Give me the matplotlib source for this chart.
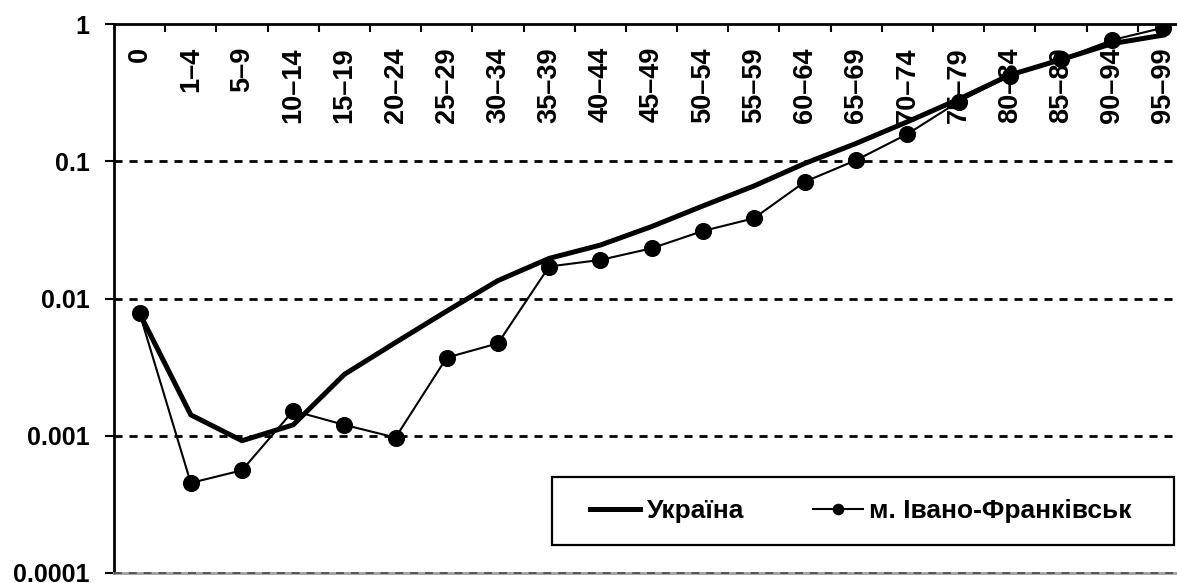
import matplotlib.pyplot as plt
from matplotlib.patches import Rectangle
import numpy as np

# age groups and rates
age_groups = ["0", "1–4", "5–9", "10–14", "15–19", "20–24", "25–29", "30–34",
              "35–39", "40–44", "45–49", "50–54", "55–59", "60–64", "65–69",
              "70–74", "75–79", "80–84", "85–89", "90–94", "95–99"]

ukraine = [0.0078, 0.00142, 0.00092, 0.0012, 0.0028, 0.00478, 0.0081, 0.0135,
           0.0196, 0.0245, 0.0334, 0.0472, 0.066, 0.0966, 0.135, 0.194,
           0.283, 0.425, 0.55, 0.72, 0.83]

ivano_frankivsk = [0.0078, 0.000453, 0.00056, 0.00152, 0.0012, 0.00097, 0.00371,
                   0.00471, 0.0171, 0.0191, 0.0232, 0.031, 0.0384, 0.071, 0.102,
                   0.158, 0.272, 0.418, 0.553, 0.764, 0.94]

y_ticks = [0.0001, 0.001, 0.01, 0.1, 1]
y_ticklabels = ["0.0001", "0.001", "0.01", "0.1", "1"]

series_labels = ["Україна", "м. Івано-Франківськ"]


def main():
    plt.rcParams['font.family'] = ['Liberation Sans', 'DejaVu Sans']
    plt.rcParams['font.weight'] = 'bold'

    W, H = 1177, 583
    fig = plt.figure(figsize=(W / 100, H / 100), dpi=100)
    # plot area runs past the right edge, as in the reference
    ax = fig.add_axes([114 / W, 10 / H, 1075 / W, 549 / H])

    x = np.arange(len(age_groups))

    ax.plot(x, ukraine, color='k', lw=3.6, label=series_labels[0], zorder=3)
    ax.plot(x, ivano_frankivsk, color='k', lw=1.5, marker='o', markersize=11.3,
            label=series_labels[1], zorder=4)

    ax.set_yscale('log')
    ax.set_ylim(y_ticks[0], y_ticks[-1])
    ax.set_xlim(-0.5, len(age_groups) - 0.5)

    # dashed horizontal grid
    for v in y_ticks[1:-1]:
        ax.axhline(v, color='k', lw=2, ls=(0, (2.9, 2.5)), zorder=1)
    ax.axhline(y_ticks[0], color='#505050', lw=1.3, ls=(0, (4.4, 3.8)),
               zorder=2.6, clip_on=False)

    ax.set_yticks(y_ticks)
    ax.set_yticklabels(y_ticklabels)
    ax.yaxis.set_minor_locator(plt.NullLocator())
    ax.tick_params(axis='y', which='major', direction='out', length=6.5,
                   width=1.5, pad=11, labelsize=18)

    # category axis sits at the top, ticks between groups pointing down
    ax.set_xticks(x)
    ax.set_xticklabels([])
    ax.set_xticks(x[:-1] + 0.5, minor=True)
    ax.tick_params(axis='x', which='major', length=0, bottom=False, top=False)
    ax.tick_params(axis='x', which='minor', direction='in', length=6,
                   width=1.5, bottom=False, top=True)
    for i, lab in enumerate(age_groups):
        ax.text(x[i], 0.958, lab, transform=ax.get_xaxis_transform(),
                rotation=90, ha='center', va='top', fontsize=19.5,
                fontweight='bold')

    ax.spines['right'].set_visible(False)
    ax.spines['top'].set_linewidth(2)
    ax.spines['left'].set_linewidth(2)
    ax.spines['bottom'].set_color('#a0a0a0')
    ax.spines['bottom'].set_linewidth(2)

    # legend box drawn separately so the padding can match
    ax.add_patch(Rectangle((552 / W, 1 - 545 / H), 622 / W, 68 / H,
                           transform=fig.transFigure, facecolor='white',
                           edgecolor='k', lw=1.6, zorder=5, clip_on=False))
    leg = ax.legend(loc='center left', bbox_to_anchor=(590 / W, 1 - 511 / H),
                    bbox_transform=fig.transFigure, borderaxespad=0,
                    borderpad=0, ncol=2, frameon=False, fontsize=19,
                    handlelength=1.9, handletextpad=0.25, columnspacing=2.6,
                    markerscale=0.65)
    leg.set_zorder(6)
    for t in leg.get_texts():
        t.set_fontweight('bold')

    fig.savefig('out.png', dpi=100)


if __name__ == "__main__":
    main()
